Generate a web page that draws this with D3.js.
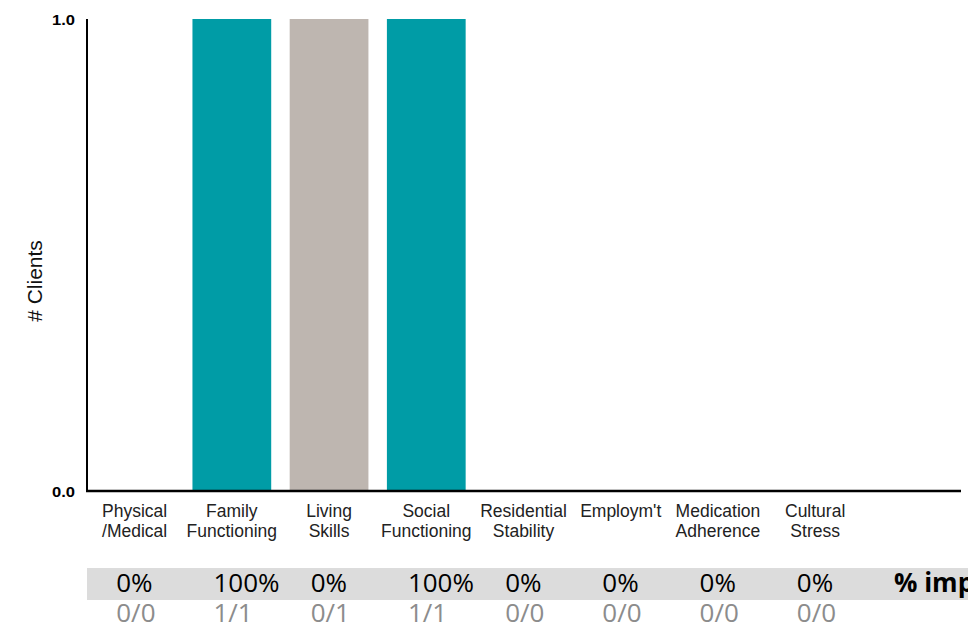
<!DOCTYPE html>
<html>
<head>
<meta charset="utf-8">
<script src="https://cdn.jsdelivr.net/npm/d3@7"></script>
<style>
  body { margin: 0; background: #fff; }
  svg { display: block; }
</style>
</head>
<body>
<div id="chart"></div>
<script>
(function(){

  const categories = [
    ['Physical', '/Medical'],
    ['Family', 'Functioning'],
    ['Living', 'Skills'],
    ['Social', 'Functioning'],
    ['Residential', 'Stability'],
    ["Employm't", ''],
    ['Medication', 'Adherence'],
    ['Cultural', 'Stress']
  ]
  const clients   = [0, 1, 1, 1, 0, 0, 0, 0]
  const improved  = [0, 1, 0, 1, 0, 0, 0, 0]
  const barColors = ['#009ca6', '#009ca6', '#beb6b0', '#009ca6', '#009ca6', '#009ca6', '#009ca6', '#009ca6']
  const pctLabels = ['0%', '100%', '0%', '100%', '0%', '0%', '0%', '0%', '% imp']
  const yTicks = [0, 1]

  const W = 968, H = 626
  const svg = d3.select('#chart').append('svg').attr('width', W).attr('height', H)

  const slots = d3.range(pctLabels.length)
  const x = d3.scaleBand().domain(slots).range([86, 961]).paddingInner(0.19).paddingOuter(0.095)
  const y = d3.scaleLinear().domain([0, 1]).range([491, 19])

  // bars
  svg.append('g').selectAll('rect').data(clients).enter().append('rect')
    .attr('x', (d, i) => x(i))
    .attr('width', x.bandwidth())
    .attr('y', d => y(d))
    .attr('height', d => y(0) - y(d))
    .attr('fill', (d, i) => barColors[i])

  // axis lines
  svg.append('line').attr('x1', 87).attr('x2', 87).attr('y1', y(1)).attr('y2', y(0) + 1)
    .attr('stroke', '#000').attr('stroke-width', 2)
  svg.append('line').attr('x1', 86).attr('x2', 961).attr('y1', y(0)).attr('y2', y(0))
    .attr('stroke', '#000').attr('stroke-width', 2.5)

  // y tick labels
  svg.append('g').selectAll('text').data(yTicks).enter().append('text')
    .attr('x', 75).attr('y', d => y(d) + 6)
    .attr('text-anchor', 'end')
    .attr('font-family', 'Liberation Sans, Arial, sans-serif')
    .attr('font-weight', 'bold').attr('font-size', '15px')
    .attr('textLength', 23).attr('lengthAdjust', 'spacingAndGlyphs')
    .text(d => d.toFixed(1))

  // y axis title
  svg.append('text')
    .attr('transform', 'translate(42,' + 281 + ') rotate(-90)')
    .attr('text-anchor', 'middle')
    .attr('font-family', 'Liberation Sans, Arial, sans-serif')
    .attr('font-size', '21px').attr('fill', '#111')
    .text('# Clients')

  // category labels
  const cat = svg.append('g').selectAll('text').data(categories).enter().append('text')
    .attr('text-anchor', 'middle')
    .attr('font-family', 'Liberation Sans, Arial, sans-serif')
    .attr('font-size', '17.5px').attr('fill', '#222')
  cat.append('tspan').attr('x', (d, i) => x(i) + x.bandwidth() / 2).attr('y', 517).text(d => d[0])
  cat.append('tspan').attr('x', (d, i) => x(i) + x.bandwidth() / 2).attr('y', 537).text(d => d[1])

  // summary table
  svg.append('rect').attr('x', 87).attr('y', 568).attr('width', W - 87).attr('height', 32)
    .attr('fill', '#dcdcdc')

  svg.append('g').selectAll('text').data(pctLabels).enter().append('text')
    .attr('x', (d, i) => x(i) + 21)
    .attr('y', 592)
    .attr('font-family', 'Open Sans, Noto Sans, sans-serif')
    .attr('font-size', '26px')
    .attr('font-weight', (d, i) => i === pctLabels.length - 1 ? 'bold' : 'normal')
    .attr('fill', '#000')
    .text(d => d)

  svg.append('g').selectAll('text').data(improved).enter().append('text')
    .attr('x', (d, i) => x(i) + 21)
    .attr('y', 622)
    .attr('font-family', 'Open Sans, Noto Sans, sans-serif')
    .attr('font-size', '26px')
    .attr('fill', '#8c8c8c')
    .text((d, i) => d + '/' + clients[i])

})()
</script>
</body>
</html>
